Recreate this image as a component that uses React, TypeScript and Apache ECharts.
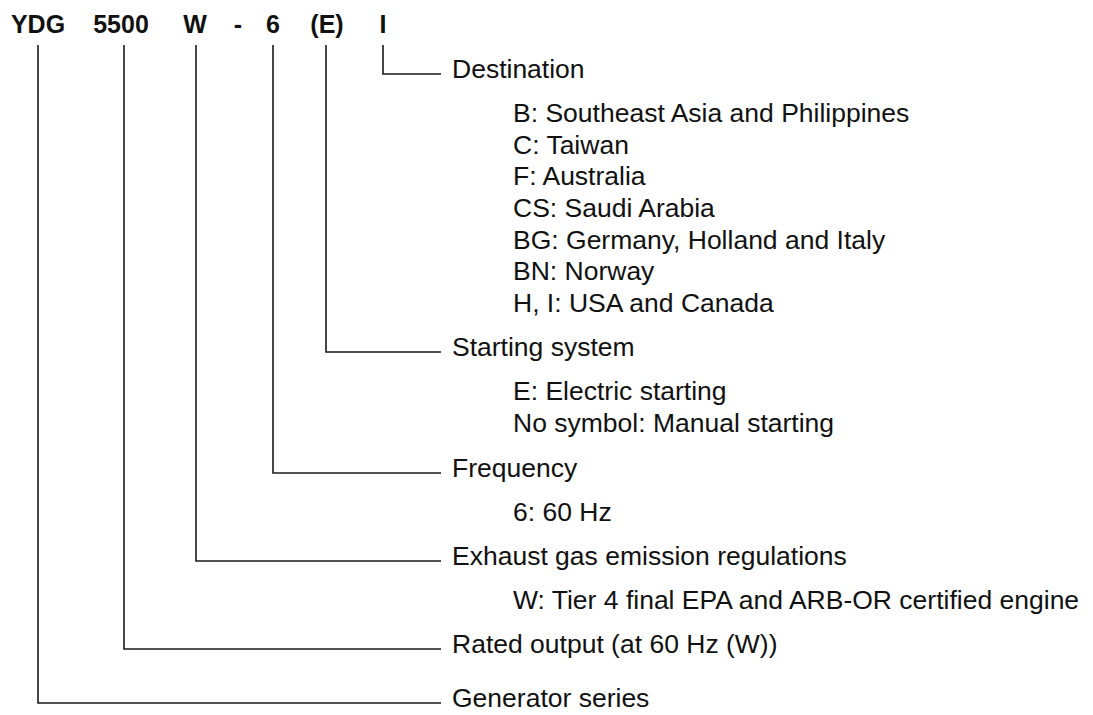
import React, { useEffect, useRef } from "react";
import * as echarts from "echarts";

// ---- Data ----
const codeTokens = ["YDG", "5500", "W", "-", "6", "(E)", "I"];
const sectionLabels = [
  "Destination",
  "Starting system",
  "Frequency",
  "Exhaust gas emission regulations",
  "Rated output (at 60 Hz (W))",
  "Generator series",
];
const destinationItems = [
  "B: Southeast Asia and Philippines",
  "C: Taiwan",
  "F: Australia",
  "CS: Saudi Arabia",
  "BG: Germany, Holland and Italy",
  "BN: Norway",
  "H, I: USA and Canada",
];
const startingItems = ["E: Electric starting", "No symbol: Manual starting"];
const frequencyItems = ["6: 60 Hz"];
const emissionItems = ["W: Tier 4 final EPA and ARB-OR certified engine"];
const ratedItems: string[] = [];
const seriesItems: string[] = [];
const sectionItems = [destinationItems, startingItems, frequencyItems, emissionItems, ratedItems, seriesItems];
// which code token each section points to
const sectionToken = [6, 5, 4, 2, 1, 0];

// ---- Layout ----
const tokenX = [38, 121, 195, 238, 273, 327, 383];
const tokenY = 24;
const leaderX = [38, 124, 196, 238, 273, 326, 383];
const leaderTop = 45;
const sectionY = [74, 352, 473, 561, 649, 703];
const leaderEnd = 441;
const labelX = 452;
const descX = 513;
const descFirstGap = 39;
const descStep = 31.67;
const FONT = '"Liberation Sans", Arial, Helvetica, sans-serif';
const TEXT_SIZE = 26.5;

export default function App() {
  const ref = useRef<HTMLDivElement>(null);
  useEffect(() => {
    if (!ref.current) return;
    const chart = echarts.init(ref.current, null, { renderer: "svg" });
    const elements: any[] = [];
    codeTokens.forEach((t, i) => {
      elements.push({
        type: "text",
        style: {
          text: t,
          x: tokenX[i],
          y: tokenY,
          align: "center",
          verticalAlign: "middle",
          fontSize: 25,
          fontWeight: "bold",
          fontFamily: FONT,
          fill: "#111",
        },
      });
    });
    sectionLabels.forEach((label, s) => {
      const lx = leaderX[sectionToken[s]];
      const y = sectionY[s];
      elements.push({
        type: "polyline",
        shape: { points: [[lx, leaderTop], [lx, y], [leaderEnd, y]] },
        style: { stroke: "#1a1a1a", lineWidth: 1.6, fill: null },
      });
      elements.push({
        type: "text",
        style: {
          text: label,
          x: labelX,
          y: y - 5,
          align: "left",
          verticalAlign: "middle",
          fontSize: TEXT_SIZE,
          fontFamily: FONT,
          fill: "#111",
        },
      });
      sectionItems[s].forEach((item, k) => {
        elements.push({
          type: "text",
          style: {
            text: item,
            x: descX,
            y: y + descFirstGap + k * descStep,
            align: "left",
            verticalAlign: "middle",
            fontSize: TEXT_SIZE,
            fontFamily: FONT,
            fill: "#111",
          },
        });
      });
    });
    chart.setOption({
      animation: false,
      backgroundColor: "#ffffff",
      graphic: { elements },
    });
    return () => chart.dispose();
  }, []);
  return (
    <div
      ref={ref}
      style={{ position: "fixed", left: 0, top: 0, width: 1093, height: 715, background: "#fff" }}
    />
  );
}
